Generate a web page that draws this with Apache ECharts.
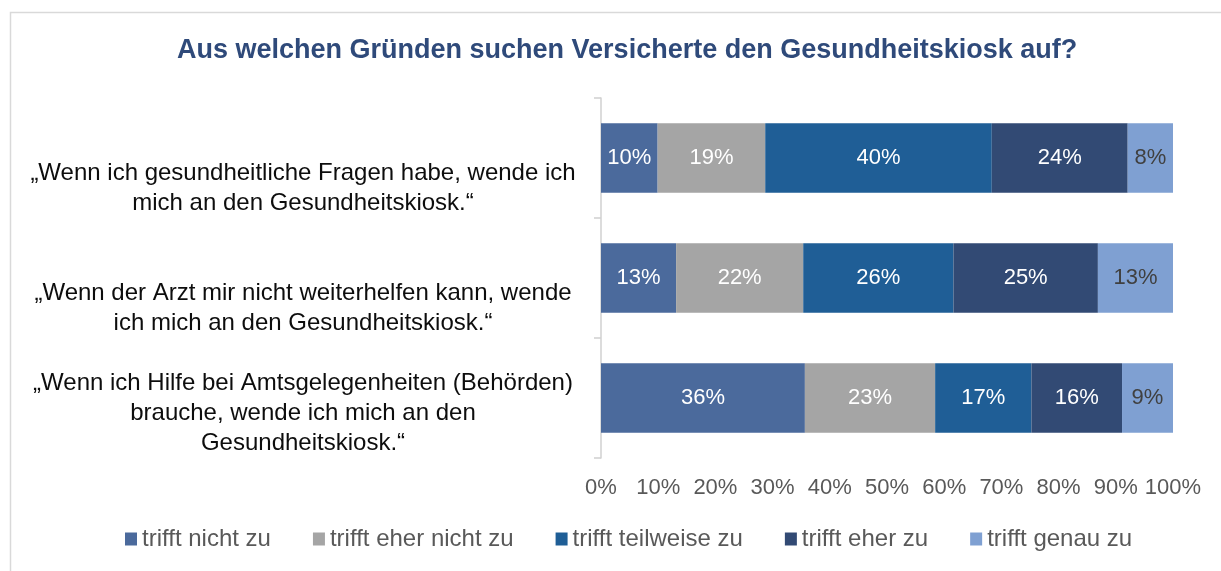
<!DOCTYPE html>
<html>
<head>
<meta charset="utf-8">
<script src="https://cdn.jsdelivr.net/npm/echarts@6/dist/echarts.min.js"></script>
<style>
  html, body { margin: 0; padding: 0; background: #fff; }
  #chart { width: 1221px; height: 571px; }
</style>
</head>
<body>
<div id="chart"></div>
<script>
// Daten (Prozentwerte wie im Diagramm beschriftet)
var titleText = 'Aus welchen Gründen suchen Versicherte den Gesundheitskiosk auf?'
var categories = [
    '„Wenn ich gesundheitliche Fragen habe, wende ich\nmich an den Gesundheitskiosk.“',
    '„Wenn der Arzt mir nicht weiterhelfen kann, wende\nich mich an den Gesundheitskiosk.“',
    '„Wenn ich Hilfe bei Amtsgelegenheiten (Behörden)\nbrauche, wende ich mich an den\nGesundheitskiosk.“'
]
var seriesNames = ['trifft nicht zu', 'trifft eher nicht zu', 'trifft teilweise zu', 'trifft eher zu', 'trifft genau zu']
var nichtZu = [10, 13, 36]
var eherNichtZu = [19, 22, 23]
var teilweiseZu = [40, 26, 17]
var eherZu = [24, 25, 16]
var genauZu = [8, 13, 9]
var xTicks = [0, 10, 20, 30, 40, 50, 60, 70, 80, 90, 100]

var colors = ['#4B6A9C', '#A5A5A5', '#1F5E96', '#324A74', '#7FA0D2']
var labelColors = ['#fff', '#fff', '#fff', '#fff', '#404040']

var raw = [nichtZu, eherNichtZu, teilweiseZu, eherZu, genauZu]
// wie in Excel: 100%-gestapelt, jede Zeile auf ihre Summe normiert
var sums = categories.map(function (c, i) {
    return raw.reduce(function (s, arr) { return s + arr[i] }, 0)
})

var font = 'Liberation Sans, Arial, sans-serif'
var myChart = echarts.init(document.getElementById('chart'))

myChart.setOption({
    backgroundColor: '#fff',
    textStyle: { fontFamily: font },
    graphic: [{
        type: 'rect',
        shape: { x: 10.5, y: 12.5, width: 1300, height: 700 },
        style: { fill: 'none', stroke: '#d9d9d9', lineWidth: 1.5 },
        silent: true
    }],
    title: {
        text: titleText,
        left: 172,
        top: 32,
        textStyle: { fontFamily: font, fontSize: 27, fontWeight: 'bold', color: '#2F4A7A' }
    },
    legend: {
        bottom: 15,
        left: 120,
        itemWidth: 12,
        itemHeight: 13,
        itemGap: 42,
        icon: 'rect',
        data: seriesNames,
        textStyle: { fontFamily: font, fontSize: 24, color: '#595959' }
    },
    grid: { left: 601, right: 48, top: 98, bottom: 113, containLabel: false },
    xAxis: {
        type: 'value',
        min: 0,
        max: 100,
        interval: 10,
        axisLine: { show: false },
        axisTick: { show: false },
        splitLine: { show: false },
        axisLabel: {
            margin: 19,
            fontSize: 22,
            color: '#595959',
            fontFamily: font,
            formatter: function (v) { return xTicks.indexOf(v) >= 0 ? v + '%' : '' }
        }
    },
    yAxis: {
        type: 'category',
        inverse: true,
        data: categories,
        axisLine: { show: true, lineStyle: { color: '#d0d0d0', width: 1.5 } },
        axisTick: { show: true, length: 7, lineStyle: { color: '#d0d0d0', width: 1.5 } },
        axisLabel: {
            interval: 0,
            hideOverlap: false,
            margin: 298,
            align: 'center',
            verticalAlign: 'middle',
            fontSize: 24,
            lineHeight: 30,
            padding: [35, 0, 0, 0],
            color: '#0d0d0d',
            fontFamily: font,
            // unten bündig wie im Original: auf 4 Zeilen auffüllen
            formatter: function (v) {
                var n = v.split('\n').length
                var pad = ''
                for (var k = n; k < 4; k++) pad += '\n'
                return pad + v
            }
        }
    },
    series: seriesNames.map(function (name, s) {
        return {
            name: name,
            type: 'bar',
            stack: 'total',
            barCategoryGap: '42%',
            itemStyle: { color: colors[s] },
            label: {
                show: true,
                position: 'inside',
                color: labelColors[s],
                fontSize: 22,
                fontFamily: font,
                formatter: function (p) { return raw[s][p.dataIndex] + '%' }
            },
            data: raw[s].map(function (v, i) { return v / sums[i] * 100 })
        }
    })
})
</script>
</body>
</html>
